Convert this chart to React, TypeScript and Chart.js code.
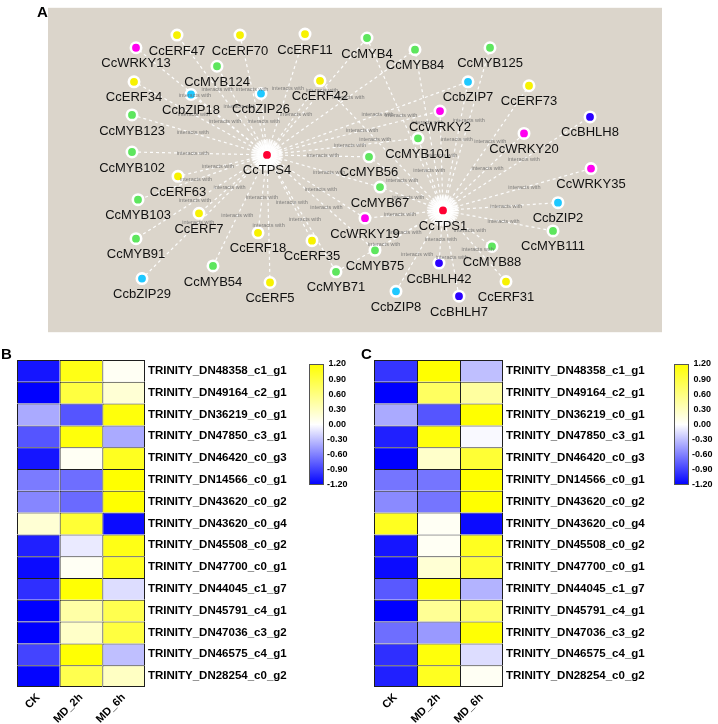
import React, { useEffect, useRef } from "react";
import { Chart, registerables } from "chart.js";
Chart.register(...registerables);

const FONT = '"Liberation Sans", Arial, Helvetica, sans-serif';

// ---------------- Panel A: interaction network ----------------
const nodeNames = ["CcTPS4","CcTPS1","CcERF47","CcWRKY13","CcERF70","CcERF11","CcMYB124","CcERF34","CcbZIP18","CcbZIP26","CcERF42","CcMYB123","CcMYB102","CcMYB4","CcMYB84","CcMYB125","CcbZIP7","CcERF73","CcWRKY2","CcBHLH8","CcWRKY20","CcMYB101","CcMYB56","CcWRKY35","CcMYB67","CcWRKY19","CcbZIP2","CcMYB111","CcMYB88","CcMYB75","CcBHLH42","CcERF31","CcbZIP8","CcBHLH7","CcERF63","CcMYB103","CcERF7","CcMYB91","CcERF18","CcERF35","CcMYB54","CcbZIP29","CcERF5","CcMYB71"];
// layout coordinates of the network (layout units)
const nodeX = [219,395,129,88,192,257,169,86,143,213,272,84,84,319,367,442,420,481,392,542,476,370,321,543,332,317,510,505,444,327,391,458,348,411,130,90,151,88,210,264,165,94,222,288];
const nodeY = [151,208,28,41,28,27,60,76,89,88,75,110,148,31,43,41,76,80,106,112,129,134,153,165,184,216,200,229,245,249,262,281,291,296,173,197,211,237,231,239,265,278,282,271];
const tps4Targets = ["CcERF47","CcWRKY13","CcERF70","CcERF11","CcMYB124","CcERF34","CcbZIP18","CcbZIP26","CcERF42","CcMYB123","CcMYB102","CcERF63","CcMYB103","CcERF7","CcMYB91","CcbZIP29","CcMYB54","CcERF5","CcERF18","CcERF35","CcMYB71","CcMYB4","CcMYB84","CcbZIP7","CcWRKY2","CcMYB101","CcMYB56","CcMYB67","CcWRKY19","CcMYB75"];
const tps1Targets = ["CcMYB4","CcMYB84","CcMYB125","CcbZIP7","CcERF73","CcWRKY2","CcBHLH8","CcWRKY20","CcWRKY35","CcbZIP2","CcMYB111","CcMYB88","CcERF31","CcBHLH7","CcBHLH42","CcbZIP8","CcMYB75","CcWRKY19","CcMYB67","CcMYB56","CcMYB101","CcERF42","CcMYB71"];
const edgeLabel = "interacts with";

// ---------------- Panels B / C: heatmaps ----------------
const conditions = ["CK", "MD_2h", "MD_6h"];
const geneIds = ["TRINITY_DN48358_c1_g1","TRINITY_DN49164_c2_g1","TRINITY_DN36219_c0_g1","TRINITY_DN47850_c3_g1","TRINITY_DN46420_c0_g3","TRINITY_DN14566_c0_g1","TRINITY_DN43620_c0_g2","TRINITY_DN43620_c0_g4","TRINITY_DN45508_c0_g2","TRINITY_DN47700_c0_g1","TRINITY_DN44045_c1_g7","TRINITY_DN45791_c4_g1","TRINITY_DN47036_c3_g2","TRINITY_DN46575_c4_g1","TRINITY_DN28254_c0_g2"];
const bCK   = [-1.1,-1.2,-0.4,-0.8,-1.1,-0.62,-0.57,0.2,-1.05,-1.15,-0.98,-1.2,-1.2,-0.88,-1.18];
const bMD2h = [1.1,0.9,-0.8,1.15,0.05,-0.68,-0.7,0.95,-0.1,0.05,1.18,0.42,0.26,1.18,0.83];
const bMD6h = [0.05,0.2,1.15,-0.4,1.05,1.2,1.2,-1.15,1.1,1.05,-0.16,0.83,0.9,-0.3,0.28];
const cCK   = [-0.95,-1.2,-0.4,-1.05,-1.2,-0.65,-0.55,1.05,-1.1,-1.15,-0.78,-1.2,-0.68,-0.98,-1.05];
const cMD2h = [1.2,0.75,-0.8,1.15,0.25,-0.65,-0.65,0.05,0.05,0.2,1.2,0.5,-0.48,1.15,1.05];
const cMD6h = [-0.3,0.45,1.2,-0.03,0.95,1.2,1.2,-1.15,1.05,0.95,-0.36,0.68,1.18,-0.16,0.05];
const colorbarTicks = [1.2, 0.9, 0.6, 0.3, 0, -0.3, -0.6, -0.9, -1.2];
const cbMin = -1.2;
const cbMax = 1.2;

// ---------------- styles ----------------
const familyColors: Record<string, string> = {
  TPS: "#ff0033", ERF: "#f7f200", MYB: "#5ee65e", bZIP: "#1ec8ff", WRKY: "#ff00f0", BHLH: "#2b00ff",
};
function familyOf(name: string) {
  for (const k of ["TPS", "ERF", "MYB", "bZIP", "WRKY", "BHLH"]) if (name.indexOf(k) >= 0) return k;
  return "MYB";
}
function valueColor(v: number) {
  const t = Math.max(-1, Math.min(1, v / cbMax));
  if (t >= 0) return `rgb(255,255,${Math.round(255 * (1 - t))})`;
  const c = Math.round(255 * (1 + t));
  return `rgb(${c},${c},255)`;
}

function makeNetwork(canvas: HTMLCanvasElement) {
  const idx = (n: string) => nodeNames.indexOf(n);
  const edges: [number, number][] = [
    ...tps4Targets.map((t) => [idx("CcTPS4"), idx(t)] as [number, number]),
    ...tps1Targets.map((t) => [idx("CcTPS1"), idx(t)] as [number, number]),
  ];
  const plugin = {
    id: "network",
    beforeDraw(chart: any) {
      const { ctx, chartArea: a } = chart;
      ctx.save();
      ctx.fillStyle = "#dbd5cb";
      ctx.fillRect(a.left, a.top, a.right - a.left, a.bottom - a.top);
      ctx.restore();
    },
    beforeDatasetsDraw(chart: any) {
      const { ctx, scales } = chart;
      ctx.save();
      ["CcTPS4", "CcTPS1"].forEach((n) => {
        const i = idx(n);
        const px = scales.x.getPixelForValue(nodeX[i]);
        const py = scales.y.getPixelForValue(nodeY[i]);
        const g = ctx.createRadialGradient(px, py, 0, px, py, 17);
        g.addColorStop(0, "rgba(255,255,255,1)");
        g.addColorStop(0.55, "rgba(255,255,255,0.95)");
        g.addColorStop(1, "rgba(255,255,255,0)");
        ctx.fillStyle = g;
        ctx.beginPath();
        ctx.arc(px, py, 17, 0, Math.PI * 2);
        ctx.fill();
        ctx.strokeStyle = "rgba(255,255,255,0.9)";
        ctx.lineWidth = 1.2;
        for (let k = 0; k < 36; k++) {
          const ang = (k / 36) * Math.PI * 2;
          ctx.beginPath();
          ctx.moveTo(px + Math.cos(ang) * 8, py + Math.sin(ang) * 8);
          ctx.lineTo(px + Math.cos(ang) * 16, py + Math.sin(ang) * 16);
          ctx.stroke();
        }
      });
      ctx.restore();
    },
    afterDatasetsDraw(chart: any) {
      const { ctx, scales } = chart;
      ctx.save();
      ctx.font = `5.5px ${FONT}`;
      ctx.fillStyle = "rgba(110,110,110,0.85)";
      ctx.textAlign = "center";
      ctx.textBaseline = "middle";
      edges.forEach(([a, b]) => {
        const t = 0.55;
        const xv = nodeX[a] + (nodeX[b] - nodeX[a]) * t;
        const yv = nodeY[a] + (nodeY[b] - nodeY[a]) * t;
        ctx.fillText(edgeLabel, scales.x.getPixelForValue(xv), scales.y.getPixelForValue(yv));
      });
      ctx.font = `13px ${FONT}`;
      ctx.fillStyle = "#111";
      nodeNames.forEach((n, i) => {
        const px = scales.x.getPixelForValue(nodeX[i]);
        const py = scales.y.getPixelForValue(nodeY[i]);
        ctx.fillText(n, px, py + 16);
      });
      ctx.restore();
    },
  };
  return new Chart(canvas, {
    type: "scatter",
    data: {
      datasets: [
        {
          type: "scatter",
          data: nodeNames.map((_, i) => ({ x: nodeX[i], y: nodeY[i] })),
          pointRadius: 5.2,
          pointBorderWidth: 2.6,
          pointBackgroundColor: nodeNames.map((n) => familyColors[familyOf(n)]),
          pointBorderColor: "#ffffff",
          order: 0,
        } as any,
        ...edges.map(([a, b]) => ({
          type: "line",
          data: [{ x: nodeX[a], y: nodeY[a] }, { x: nodeX[b], y: nodeY[b] }],
          borderColor: "rgba(255,255,255,0.95)",
          borderWidth: 1.2,
          borderDash: [3, 3],
          pointRadius: 0,
          fill: false,
          order: 1,
        } as any)),
      ],
    },
    options: {
      animation: false,
      responsive: false,
      events: [],
      layout: { padding: { left: 48, right: 56, top: 0, bottom: 7 } },
      plugins: { legend: { display: false }, tooltip: { enabled: false } },
      scales: {
        x: { type: "linear", min: 0, max: 614, display: false },
        y: { type: "linear", min: 0, max: 333, reverse: true, display: false },
      },
    },
    plugins: [plugin],
  } as any);
}

function makeHeatmap(canvas: HTMLCanvasElement, cols: number[][], padLeft: number, axisWidth: number) {
  const nRows = geneIds.length;
  const datasets = geneIds.map((_, r) => ({
    data: conditions.map(() => [r, r + 1]),
    backgroundColor: cols.map((c) => valueColor(c[r])),
    borderColor: "#1e1e1e",
    borderWidth: (ctx: any) => ({
      top: 1,
      left: 1,
      right: ctx.dataIndex === conditions.length - 1 ? 1 : 0,
      bottom: r === nRows - 1 ? 1 : 0,
    }),
    borderSkipped: false,
    grouped: false,
    barPercentage: 1,
    categoryPercentage: 1,
    inflateAmount: 0,
  }));
  return new Chart(canvas, {
    type: "bar",
    data: { labels: conditions, datasets },
    options: {
      animation: false,
      responsive: false,
      events: [],
      layout: { padding: { left: padLeft, top: 15, right: 0, bottom: 0 } },
      plugins: { legend: { display: false }, tooltip: { enabled: false } },
      scales: {
        x: {
          type: "category",
          grid: { display: false, drawTicks: false },
          border: { display: false },
          ticks: {
            minRotation: 45,
            maxRotation: 45,
            padding: 4,
            color: "#000",
            font: { family: FONT, size: 11, weight: "bold" },
          },
          afterFit: (s: any) => { s.height = 37; },
        },
        y: {
          type: "linear",
          min: 0,
          max: nRows,
          reverse: true,
          position: "right",
          grid: { display: false, drawTicks: false },
          border: { display: false },
          afterBuildTicks: (s: any) => { s.ticks = geneIds.map((_, i) => ({ value: i + 0.5 })); },
          ticks: {
            autoSkip: false,
            padding: 3,
            color: "#000",
            font: { family: FONT, size: 11.5, weight: "bold" },
            callback: (v: any) => geneIds[Math.floor(Number(v))],
          },
          afterFit: (s: any) => { s.width = axisWidth; },
        },
      },
    },
  } as any);
}

function makeColorbar(canvas: HTMLCanvasElement, padLeft: number, axisWidth: number) {
  return new Chart(canvas, {
    type: "bar",
    data: {
      labels: ["scale"],
      datasets: [
        {
          data: [[cbMin, cbMax]],
          backgroundColor: (ctx: any) => {
            const chart = ctx.chart;
            if (!chart.chartArea) return "#fff";
            const y = chart.scales.y;
            const g = chart.ctx.createLinearGradient(0, y.getPixelForValue(cbMax), 0, y.getPixelForValue(cbMin));
            g.addColorStop(0, "#ffff00");
            g.addColorStop(0.5, "#ffffff");
            g.addColorStop(1, "#0000ff");
            return g;
          },
          borderColor: "#555",
          borderWidth: 1,
          borderSkipped: false,
          barPercentage: 1,
          categoryPercentage: 1,
          inflateAmount: 0,
        },
      ],
    },
    options: {
      animation: false,
      responsive: false,
      events: [],
      layout: { padding: { left: padLeft, top: 19, right: 0, bottom: 20 } },
      plugins: { legend: { display: false }, tooltip: { enabled: false } },
      scales: {
        x: { display: false },
        y: {
          type: "linear",
          min: cbMin,
          max: cbMax,
          position: "right",
          grid: { display: false, drawTicks: false },
          border: { display: false },
          afterBuildTicks: (s: any) => { s.ticks = colorbarTicks.map((v) => ({ value: v })); },
          ticks: {
            autoSkip: false,
            padding: 3,
            crossAlign: "center",
            color: "#000",
            font: { family: FONT, size: 9, weight: "bold" },
            callback: (v: any) => Number(v).toFixed(2),
          },
          afterFit: (s: any) => { s.width = axisWidth; },
        },
      },
    },
  } as any);
}

export default function App() {
  const netRef = useRef<HTMLCanvasElement>(null);
  const hbRef = useRef<HTMLCanvasElement>(null);
  const cbbRef = useRef<HTMLCanvasElement>(null);
  const hcRef = useRef<HTMLCanvasElement>(null);
  const cbcRef = useRef<HTMLCanvasElement>(null);

  useEffect(() => {
    const charts: Chart[] = [];
    charts.push(makeNetwork(netRef.current!));
    charts.push(makeHeatmap(hbRef.current!, [bCK, bMD2h, bMD6h], 17, 155));
    charts.push(makeColorbar(cbbRef.current!, 9, 36));
    charts.push(makeHeatmap(hcRef.current!, [cCK, cMD2h, cMD6h], 17, 154));
    charts.push(makeColorbar(cbcRef.current!, 9, 29));
    return () => charts.forEach((c) => c.destroy());
  }, []);

  const abs = (left: number, top: number, width: number, height: number): React.CSSProperties => ({
    position: "absolute", left, top, width, height,
  });
  const letter: React.CSSProperties = { position: "absolute", font: `bold 15px ${FONT}`, color: "#000", lineHeight: "17px" };

  return (
    <div style={{ position: "absolute", left: 0, top: 0, width: 718, height: 724, background: "#fff" }}>
      <canvas ref={netRef} width={718} height={340} style={abs(0, 0, 718, 340)} />
      <canvas ref={hbRef} width={300} height={379} style={abs(0, 345, 300, 379)} />
      <canvas ref={cbbRef} width={60} height={160} style={abs(300, 345, 60, 160)} />
      <canvas ref={hcRef} width={300} height={379} style={abs(357, 345, 300, 379)} />
      <canvas ref={cbcRef} width={53} height={160} style={abs(665, 345, 53, 160)} />
      <div style={{ ...letter, left: 37, top: 3 }}>A</div>
      <div style={{ ...letter, left: 1, top: 345 }}>B</div>
      <div style={{ ...letter, left: 361, top: 345 }}>C</div>
    </div>
  );
}
